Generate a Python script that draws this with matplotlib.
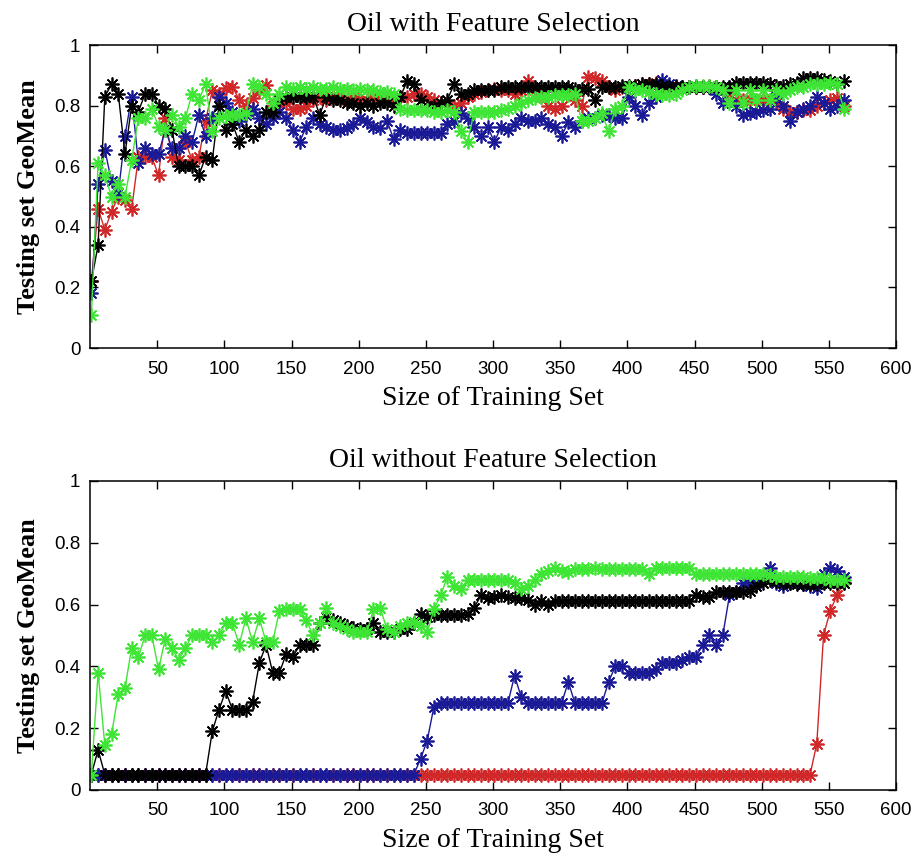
import numpy as np
import matplotlib
matplotlib.use("Agg")
import matplotlib.pyplot as plt
from matplotlib import font_manager

# training set sizes (every 5 samples)
train_size = np.arange(1, 562, 5)

# --- with feature selection ---
red_fs = [0.22, 0.46, 0.39, 0.45, 0.50, 0.49, 0.46, 0.63, 0.63, 0.63,
          0.57, 0.76, 0.63, 0.62, 0.68, 0.62, 0.63, 0.75, 0.85, 0.84,
          0.857, 0.862, 0.82, 0.80, 0.824, 0.85, 0.868, 0.80, 0.81, 0.81,
          0.79, 0.79, 0.80, 0.82, 0.83, 0.82, 0.83, 0.83, 0.82, 0.83,
          0.83, 0.82, 0.83, 0.83, 0.83, 0.82, 0.83, 0.83, 0.84, 0.84,
          0.83, 0.82, 0.81, 0.80, 0.80, 0.81, 0.83, 0.84, 0.845, 0.85,
          0.855, 0.85, 0.85, 0.84, 0.85, 0.88, 0.85, 0.83, 0.80, 0.79,
          0.80, 0.85, 0.82, 0.80, 0.895, 0.89, 0.88, 0.86, 0.85, 0.86,
          0.86, 0.865, 0.87, 0.87, 0.875, 0.86, 0.86, 0.865, 0.86, 0.86,
          0.86, 0.86, 0.865, 0.86, 0.85, 0.84, 0.82, 0.82, 0.82, 0.82,
          0.82, 0.82, 0.81, 0.79, 0.78, 0.78, 0.785, 0.785, 0.80, 0.81,
          0.82, 0.825, 0.80]
blue_fs = [0.18, 0.54, 0.655, 0.55, 0.51, 0.70, 0.83, 0.61, 0.66, 0.64,
           0.64, 0.72, 0.66, 0.66, 0.70, 0.68, 0.77, 0.70, 0.76, 0.83,
           0.81, 0.78, 0.75, 0.77, 0.79, 0.76, 0.74, 0.76, 0.78, 0.76,
           0.72, 0.68, 0.73, 0.76, 0.74, 0.73, 0.72, 0.72, 0.725, 0.74,
           0.76, 0.745, 0.73, 0.725, 0.75, 0.69, 0.72, 0.71, 0.71, 0.71,
           0.71, 0.71, 0.71, 0.74, 0.75, 0.775, 0.76, 0.73, 0.70, 0.73,
           0.68, 0.73, 0.72, 0.74, 0.76, 0.75, 0.75, 0.76, 0.74, 0.73,
           0.70, 0.745, 0.73, 0.75, 0.76, 0.76, 0.77, 0.77, 0.76, 0.76,
           0.83, 0.80, 0.77, 0.81, 0.83, 0.885, 0.87, 0.865, 0.86, 0.86,
           0.865, 0.86, 0.86, 0.84, 0.81, 0.86, 0.80, 0.77, 0.775, 0.78,
           0.785, 0.79, 0.83, 0.80, 0.75, 0.78, 0.79, 0.80, 0.83, 0.81,
           0.79, 0.80, 0.82]
black_fs = [0.22, 0.34, 0.83, 0.87, 0.84, 0.64, 0.80, 0.78, 0.84, 0.84,
            0.80, 0.79, 0.72, 0.60, 0.60, 0.60, 0.57, 0.63, 0.62, 0.80,
            0.72, 0.74, 0.68, 0.72, 0.70, 0.72, 0.78, 0.78, 0.82, 0.83,
            0.83, 0.83, 0.83, 0.83, 0.77, 0.83, 0.82, 0.82, 0.81, 0.81,
            0.80, 0.81, 0.80, 0.81, 0.81, 0.80, 0.83, 0.88, 0.87, 0.82,
            0.80, 0.80, 0.81, 0.82, 0.87, 0.84, 0.84, 0.85, 0.85, 0.85,
            0.85, 0.86, 0.86, 0.86, 0.86, 0.86, 0.86, 0.86, 0.86, 0.86,
            0.86, 0.86, 0.855, 0.855, 0.855, 0.82, 0.86, 0.86, 0.86, 0.865,
            0.865, 0.865, 0.87, 0.87, 0.87, 0.865, 0.86, 0.86, 0.86, 0.86,
            0.86, 0.86, 0.86, 0.86, 0.86, 0.86, 0.875, 0.875, 0.875, 0.875,
            0.875, 0.87, 0.865, 0.865, 0.87, 0.875, 0.89, 0.89, 0.89, 0.885,
            0.88, 0.87, 0.88]
green_fs = [0.11, 0.61, 0.57, 0.50, 0.54, 0.50, 0.62, 0.76, 0.76, 0.79,
            0.73, 0.72, 0.77, 0.73, 0.76, 0.84, 0.82, 0.87, 0.715, 0.76,
            0.765, 0.77, 0.77, 0.775, 0.87, 0.86, 0.84, 0.81, 0.84, 0.86,
            0.855, 0.86, 0.855, 0.86, 0.855, 0.855, 0.86, 0.855, 0.855, 0.85,
            0.855, 0.85, 0.85, 0.845, 0.845, 0.84, 0.79, 0.785, 0.785, 0.785,
            0.785, 0.78, 0.78, 0.785, 0.78, 0.715, 0.68, 0.78, 0.78, 0.78,
            0.78, 0.785, 0.79, 0.80, 0.81, 0.82, 0.825, 0.83, 0.83, 0.835,
            0.835, 0.835, 0.84, 0.75, 0.75, 0.76, 0.775, 0.715, 0.79, 0.80,
            0.86, 0.85, 0.85, 0.845, 0.84, 0.835, 0.835, 0.84, 0.85, 0.86,
            0.865, 0.865, 0.865, 0.86, 0.85, 0.81, 0.85, 0.81, 0.85, 0.82,
            0.85, 0.82, 0.85, 0.84, 0.85, 0.86, 0.86, 0.87, 0.87, 0.87,
            0.875, 0.87, 0.79]

# --- without feature selection ---
red_nofs = [0.05, 0.05, 0.05, 0.05, 0.05, 0.05, 0.05, 0.05, 0.05, 0.05,
            0.05, 0.05, 0.05, 0.05, 0.05, 0.05, 0.05, 0.05, 0.05, 0.05,
            0.05, 0.05, 0.05, 0.05, 0.05, 0.05, 0.05, 0.05, 0.05, 0.05,
            0.05, 0.05, 0.05, 0.05, 0.05, 0.05, 0.05, 0.05, 0.05, 0.05,
            0.05, 0.05, 0.05, 0.05, 0.05, 0.05, 0.05, 0.05, 0.05, 0.05,
            0.05, 0.05, 0.05, 0.05, 0.05, 0.05, 0.05, 0.05, 0.05, 0.05,
            0.05, 0.05, 0.05, 0.05, 0.05, 0.05, 0.05, 0.05, 0.05, 0.05,
            0.05, 0.05, 0.05, 0.05, 0.05, 0.05, 0.05, 0.05, 0.05, 0.05,
            0.05, 0.05, 0.05, 0.05, 0.05, 0.05, 0.05, 0.05, 0.05, 0.05,
            0.05, 0.05, 0.05, 0.05, 0.05, 0.05, 0.05, 0.05, 0.05, 0.05,
            0.05, 0.05, 0.05, 0.05, 0.05, 0.05, 0.05, 0.05, 0.15, 0.50,
            0.58, 0.63, 0.67]
blue_nofs = [0.05, 0.05, 0.05, 0.05, 0.05, 0.05, 0.05, 0.05, 0.05, 0.05,
             0.05, 0.05, 0.05, 0.05, 0.05, 0.05, 0.05, 0.05, 0.05, 0.05,
             0.05, 0.05, 0.05, 0.05, 0.05, 0.05, 0.05, 0.05, 0.05, 0.05,
             0.05, 0.05, 0.05, 0.05, 0.05, 0.05, 0.05, 0.05, 0.05, 0.05,
             0.05, 0.05, 0.05, 0.05, 0.05, 0.05, 0.05, 0.05, 0.05, 0.10,
             0.16, 0.27, 0.28, 0.28, 0.28, 0.28, 0.28, 0.28, 0.28, 0.28,
             0.28, 0.28, 0.28, 0.37, 0.30, 0.28, 0.28, 0.28, 0.28, 0.28,
             0.28, 0.35, 0.28, 0.28, 0.28, 0.28, 0.28, 0.35, 0.40, 0.40,
             0.38, 0.38, 0.38, 0.38, 0.39, 0.41, 0.41, 0.41, 0.42, 0.43,
             0.43, 0.47, 0.50, 0.47, 0.50, 0.63, 0.64, 0.67, 0.67, 0.67,
             0.69, 0.72, 0.67, 0.66, 0.67, 0.67, 0.665, 0.66, 0.655, 0.70,
             0.72, 0.71, 0.69]
black_nofs = [0.05, 0.13, 0.05, 0.05, 0.05, 0.05, 0.05, 0.05, 0.05, 0.05,
              0.05, 0.05, 0.05, 0.05, 0.05, 0.05, 0.05, 0.05, 0.19, 0.26,
              0.32, 0.26, 0.26, 0.26, 0.285, 0.41, 0.47, 0.38, 0.38, 0.44,
              0.43, 0.47, 0.47, 0.47, 0.54, 0.56, 0.55, 0.54, 0.53, 0.525,
              0.52, 0.52, 0.54, 0.51, 0.51, 0.51, 0.52, 0.52, 0.54, 0.57,
              0.56, 0.565, 0.565, 0.565, 0.565, 0.565, 0.57, 0.59, 0.63, 0.62,
              0.625, 0.63, 0.625, 0.62, 0.62, 0.615, 0.60, 0.61, 0.60, 0.61,
              0.61, 0.61, 0.61, 0.61, 0.61, 0.61, 0.61, 0.61, 0.61, 0.61,
              0.61, 0.61, 0.61, 0.61, 0.61, 0.61, 0.61, 0.61, 0.61, 0.61,
              0.63, 0.625, 0.625, 0.64, 0.64, 0.64, 0.64, 0.64, 0.645, 0.66,
              0.67, 0.68, 0.675, 0.67, 0.67, 0.665, 0.665, 0.665, 0.665, 0.67,
              0.67, 0.67, 0.67]
green_nofs = [0.05, 0.38, 0.145, 0.18, 0.31, 0.33, 0.46, 0.43, 0.50, 0.50,
              0.39, 0.49, 0.46, 0.42, 0.46, 0.50, 0.50, 0.50, 0.48, 0.50,
              0.54, 0.54, 0.47, 0.555, 0.48, 0.555, 0.48, 0.48, 0.58, 0.585,
              0.585, 0.585, 0.55, 0.50, 0.54, 0.59, 0.54, 0.53, 0.52, 0.51,
              0.51, 0.51, 0.585, 0.59, 0.52, 0.51, 0.53, 0.54, 0.545, 0.53,
              0.51, 0.585, 0.63, 0.69, 0.66, 0.65, 0.68, 0.68, 0.68, 0.68,
              0.68, 0.68, 0.68, 0.67, 0.65, 0.66, 0.68, 0.70, 0.71, 0.72,
              0.71, 0.705, 0.715, 0.715, 0.715, 0.72, 0.715, 0.715, 0.715, 0.715,
              0.715, 0.715, 0.715, 0.70, 0.72, 0.72, 0.72, 0.72, 0.72, 0.72,
              0.70, 0.70, 0.70, 0.70, 0.70, 0.70, 0.70, 0.70, 0.70, 0.70,
              0.70, 0.695, 0.69, 0.69, 0.69, 0.69, 0.69, 0.685, 0.685, 0.685,
              0.68, 0.68, 0.68]

x_ticks = [50, 100, 150, 200, 250, 300, 350, 400, 450, 500, 550, 600]
y_ticks = [0, 0.2, 0.4, 0.6, 0.8, 1]
y_ticklabels = ["0", "0.2", "0.4", "0.6", "0.8", "1"]

colors = {"red": "#d02828", "blue": "#1a1a96", "black": "#000000", "green": "#3fe535"}

names = {f.name for f in font_manager.fontManager.ttflist}
serif = "Liberation Serif" if "Liberation Serif" in names else "DejaVu Serif"
sans = "Liberation Sans" if "Liberation Sans" in names else "DejaVu Sans"

star = (8, 2, 0)


def draw(ax, series, title):
    for ys, c in series:
        ax.plot(train_size, ys, color=c, lw=1.0, marker=star, ms=10, mew=1.25)
    ax.set_xlim(0, 600)
    ax.set_ylim(0, 1)
    ax.set_xticks(x_ticks)
    ax.set_xticklabels([str(t) for t in x_ticks], family=sans, fontsize=13.5)
    ax.set_yticks(y_ticks)
    ax.set_yticklabels(y_ticklabels, family=sans, fontsize=13.5)
    ax.tick_params(direction="in", top=True, right=True, length=6, width=1)
    ax.tick_params(axis="x", pad=9)
    ax.tick_params(axis="y", pad=7)
    for s in ax.spines.values():
        s.set_linewidth(1.1)
    ax.set_title(title, family=serif, fontsize=20, pad=10)
    ax.set_xlabel("Size of Training Set", family=serif, fontsize=20, labelpad=6)
    ax.set_ylabel("Testing set GeoMean", family=serif, fontsize=19, fontweight="bold", labelpad=10)


fig = plt.figure(figsize=(9.15, 8.58), dpi=100)
ax1 = fig.add_axes([0.0984, 0.5944, 0.8809, 0.3531])
ax2 = fig.add_axes([0.0984, 0.0793, 0.8809, 0.3601])

draw(ax1, [(red_fs, colors["red"]), (blue_fs, colors["blue"]),
           (black_fs, colors["black"]), (green_fs, colors["green"])],
     "Oil with Feature Selection")
draw(ax2, [(red_nofs, colors["red"]), (blue_nofs, colors["blue"]),
           (black_nofs, colors["black"]), (green_nofs, colors["green"])],
     "Oil without Feature Selection")

fig.savefig("out.png", dpi=100)
